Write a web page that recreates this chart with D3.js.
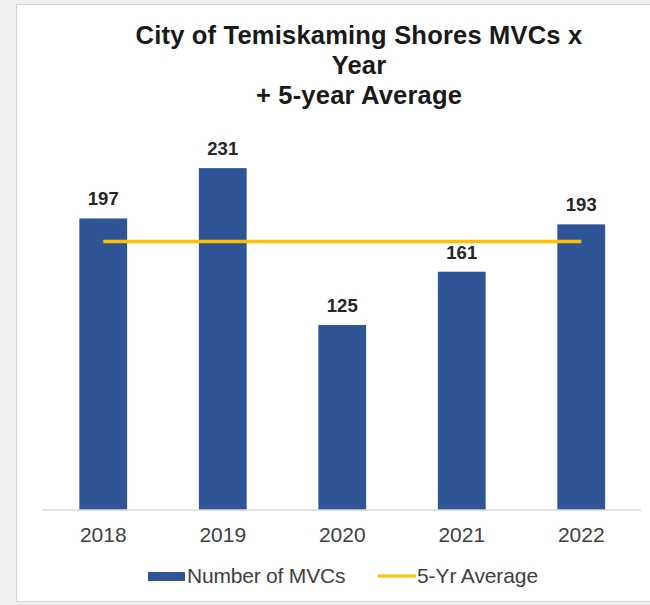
<!DOCTYPE html>
<html>
<head>
<meta charset="utf-8">
<script src="https://cdn.jsdelivr.net/npm/d3@7"></script>
<style>
  body { margin: 0; background: #efefef; }
  svg { display: block; font-family: "Liberation Sans", Arial, sans-serif; }
</style>
</head>
<body>
<div id="chart"></div>
<script>
const YEARS = ["2018", "2019", "2020", "2021", "2022"];
const MVCS = [197, 231, 125, 161, 193];
const TITLE_LINES = ["City of Temiskaming Shores MVCs x", "Year", "+ 5-year Average"];
const LEGEND = ["Number of MVCs", "5-Yr Average"];

const W = 650, H = 605;
const BAR = "#2f5597";
const AVG = "#ffc000";

const avg = d3.mean(MVCS);

const svg = d3.select("#chart").append("svg")
  .attr("width", W)
  .attr("height", H);

// card
svg.append("rect")
  .attr("x", 16.5).attr("y", 4.5)
  .attr("width", W).attr("height", H - 8)
  .attr("fill", "#fff")
  .attr("stroke", "#d4d4d4");

const x = d3.scaleBand()
  .domain(YEARS)
  .range([43.5, 641])
  .paddingInner(0.6)
  .paddingOuter(0.3);

const y = d3.scaleLinear()
  .domain([0, 250])
  .range([510, 140]);

// title
svg.append("text")
  .attr("x", 359)
  .attr("y", 44)
  .attr("text-anchor", "middle")
  .style("font-weight", "bold")
  .style("font-size", "25.5px")
  .style("letter-spacing", "0.2px")
  .style("fill", "#1a1a1a")
  .selectAll("tspan")
  .data(TITLE_LINES)
  .join("tspan")
  .attr("x", 359)
  .attr("dy", (d, i) => i === 0 ? 0 : 30)
  .text(d => d);

// bars
svg.selectAll(".bar")
  .data(MVCS)
  .join("rect")
  .attr("class", "bar")
  .attr("x", (d, i) => x(YEARS[i]))
  .attr("y", d => y(d))
  .attr("width", x.bandwidth())
  .attr("height", d => y(0) - y(d))
  .attr("fill", BAR);

// value labels
svg.selectAll(".val")
  .data(MVCS)
  .join("text")
  .attr("class", "val")
  .attr("x", (d, i) => x(YEARS[i]) + x.bandwidth() / 2)
  .attr("y", d => y(d) - 13)
  .attr("text-anchor", "middle")
  .style("font-weight", "bold")
  .style("font-size", "18.5px")
  .style("fill", "#262626")
  .text(d => d);

// x axis
const xAxis = svg.append("g")
  .attr("transform", `translate(0,${y(0)})`)
  .call(d3.axisBottom(x).tickSize(0).tickPadding(17));
xAxis.select(".domain").attr("stroke", "#d9d9d9").attr("stroke-width", 1.5)
  .attr("d", `M42,0H641`);
xAxis.selectAll("text")
  .style("font-family", "'Liberation Sans', Arial, sans-serif")
  .style("font-size", "21px")
  .style("fill", "#404040");

// 5-yr average line
const line = d3.line()
  .x(d => x(d) + x.bandwidth() / 2)
  .y(() => y(avg));
svg.append("path")
  .datum(YEARS)
  .attr("d", line)
  .attr("fill", "none")
  .attr("stroke", AVG)
  .attr("stroke-width", 3.5);

// legend
const lg = svg.append("g").attr("transform", "translate(148,576)");
lg.append("rect").attr("x", 0).attr("y", -4).attr("width", 37).attr("height", 9).attr("fill", BAR);
lg.append("text").attr("x", 39).attr("y", 7)
  .style("font-size", "21px").style("letter-spacing", "-0.2px")
  .style("fill", "#404040").text(LEGEND[0]);
lg.append("line").attr("x1", 230).attr("x2", 268).attr("y1", 0).attr("y2", 0)
  .attr("stroke", AVG).attr("stroke-width", 3);
lg.append("text").attr("x", 269).attr("y", 7)
  .style("font-size", "21px").style("letter-spacing", "-0.1px")
  .style("fill", "#404040").text(LEGEND[1]);
</script>
</body>
</html>
